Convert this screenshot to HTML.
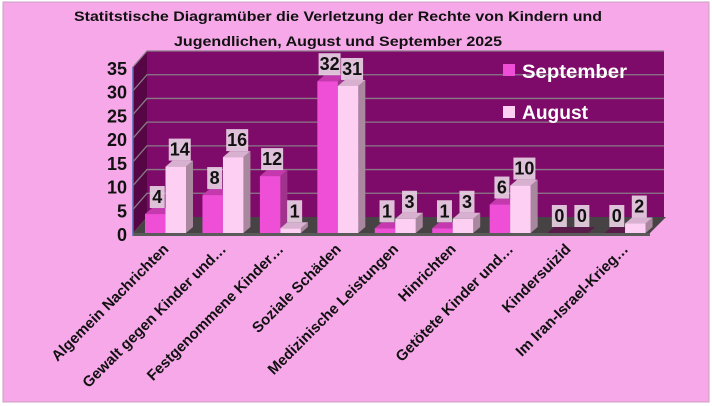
<!DOCTYPE html>
<html><head><meta charset="utf-8"><style>
html,body{margin:0;padding:0;background:#fff;}
svg{display:block;font-family:"Liberation Sans",sans-serif;}
</style></head><body>
<svg id="chart" width="712" height="406" viewBox="0 0 712 406" xmlns="http://www.w3.org/2000/svg">
<rect x="3" y="2" width="706" height="400" fill="#f6a8e8" stroke="#c9a0c0" stroke-width="1"/>
<text x="338" y="21" text-anchor="middle" font-weight="bold" font-size="14" textLength="528" lengthAdjust="spacingAndGlyphs" fill="#111">Statitstische Diagramüber die Verletzung der Rechte von Kindern und</text>
<text x="338" y="46" text-anchor="middle" font-weight="bold" font-size="14" textLength="328" lengthAdjust="spacingAndGlyphs" fill="#111">Jugendlichen,  August und September 2025</text>
<g id="plot"></g>
<g>
<rect x="503" y="64" width="12" height="12" fill="#ee4fd6"/>
<text x="522" y="78" font-size="19" font-weight="bold" fill="#fff" textLength="105" lengthAdjust="spacingAndGlyphs">September</text>
<rect x="503" y="106" width="12" height="12" fill="#fdd0f3"/>
<text x="522" y="119" font-size="19" font-weight="bold" fill="#fff" textLength="66" lengthAdjust="spacingAndGlyphs">August</text>
</g>
</svg>
<script>
const categories=["Algemein Nachrichten","Gewalt gegen Kinder und…","Festgenommene Kinder…","Soziale Schäden","Medizinische Leistungen","Hinrichten","Getötete Kinder und…","Kindersuizid","Im Iran-Israel-Krieg…"];
const september=[4,8,12,32,1,1,6,0,0];
const august=[14,16,1,31,3,3,10,0,2];
const yTicks=[0,5,10,15,20,25,30,35];
const NS="http://www.w3.org/2000/svg";
const g=document.getElementById('plot');
const X0=133,X1=650,Y0=233,YMAX=35,PH=166,DX=14,DY=-16;
const catW=(X1-X0)/categories.length, barW=20.5;
function y(v){return Y0-v/YMAX*PH;}
function xc(i){return X0+12+i*catW;}
function mk(t,a){const e=document.createElementNS(NS,t);for(const k in a)e.setAttribute(k,a[k]);g.appendChild(e);return e;}
let e=mk('polygon',{points:`${X0+DX},${y(YMAX)+DY} ${X1+DX},${y(YMAX)+DY} ${X1+DX},${Y0+DY} ${X0+DX},${Y0+DY}`,fill:'#7e0a69'});

e=mk('polygon',{points:`${X0},${y(YMAX)} ${X0+DX},${y(YMAX)+DY} ${X0+DX},${Y0+DY} ${X0},${Y0}`,fill:'#560645'});

yTicks.forEach(t=>{
  if(t>0){const l=mk('polyline',{points:`${X0},${y(t)} ${X0+DX},${y(t)+DY} ${X1+DX},${y(t)+DY}`,fill:'none',stroke:'#8a7a88','stroke-width':1.3});
  }
  const tx=mk('text',{x:X0-6,y:y(t)+8,'text-anchor':'end','font-size':18,'font-weight':'bold',fill:'#111'});
  tx.textContent=t;
  
});
e=mk('polygon',{points:`${X0},${Y0} ${X1},${Y0} ${X1+DX+2},${Y0+DY} ${X0+DX},${Y0+DY}`,fill:'#474244'});

e=mk('rect',{x:X0,y:Y0,width:X1-X0,height:3,fill:'#5a5a5a'});

e=mk('line',{x1:X0,y1:y(YMAX),x2:X0,y2:Y0+3,stroke:'#4a6fb0','stroke-width':1.5});

function bar(x,v,front,top,side,name){
  const yt=y(v),dx=7,dy=-6;
  if(v>0){
  const s=mk('polygon',{points:`${x+barW},${yt} ${x+barW+dx},${yt+dy} ${x+barW+dx},${Y0+dy} ${x+barW},${Y0}`,fill:side});
  
  }
  const t=mk('polygon',{points:`${x},${yt} ${x+dx},${yt+dy} ${x+barW+dx},${yt+dy} ${x+barW},${yt}`,fill:v>0?top:'#5a1a4a'});
  
  if(v>0){
  const r=mk('rect',{x:x,y:yt,width:barW,height:Y0-yt,fill:front});
  
  }
}
function label(x,v){
  const yt=y(v)-8;
  const w=String(v).length>1?22:15;
  const b=mk('rect',{x:x-w/2,y:yt-20,width:w,height:22,fill:'#ead4e6','fill-opacity':0.9});
  
  const t=mk('text',{x:x,y:yt-3,'text-anchor':'middle','font-size':18,'font-weight':'bold',fill:'#111'});
  t.textContent=v;
  
}
categories.forEach((c,i)=>{
  const x=xc(i);
  bar(x,september[i],'#ee4fd6','#c43aae','#a0338c','bar-september-'+i);
  bar(x+barW,august[i],'#fdd0f3','#d8b0d0','#a9879f','bar-august-'+i);
});
categories.forEach((c,i)=>{
  const x=xc(i);
  label(x+barW/2+2,september[i]);
  label(x+barW*1.5+4,august[i]);
  const cx=x+barW+4;
  const t=mk('text',{x:cx,y:250,'text-anchor':'end','font-size':15,'font-weight':'bold',fill:'#111',transform:`rotate(-45 ${cx} 250)`});
  t.textContent=c;
  
});
</script>
</body></html>
